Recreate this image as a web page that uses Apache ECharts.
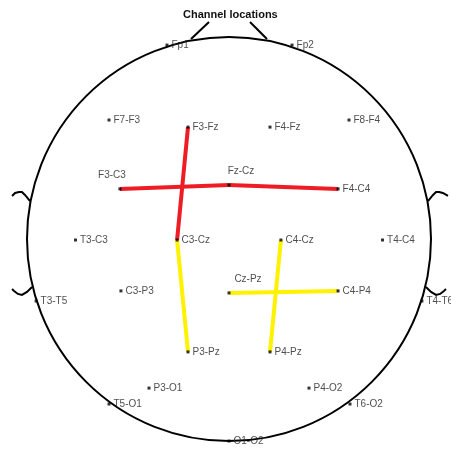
<!DOCTYPE html>
<html>
<head>
<meta charset="utf-8">
<script src="https://cdn.jsdelivr.net/npm/echarts@6/dist/echarts.min.js"></script>
<style>
  html, body { margin: 0; padding: 0; background: #fff; }
  #chart { width: 451px; height: 453px; }
</style>
</head>
<body>
<div id="chart"></div>
<script>
// Channel names and their planar positions (head radius = 1, nose up)
const channelNames = [
  'Fp1', 'Fp2',
  'F7-F3', 'F8-F4', 'F3-Fz', 'F4-Fz',
  'F3-C3', 'Fz-Cz', 'F4-C4',
  'T3-C3', 'C3-Cz', 'C4-Cz', 'T4-C4',
  'C3-P3', 'Cz-Pz', 'C4-P4',
  'T3-T5', 'T4-T6',
  'P3-Pz', 'P4-Pz',
  'P3-O1', 'P4-O2', 'T5-O1', 'T6-O2',
  'O1-O2'
];
const channelX = [
  -0.307, 0.312,
  -0.594, 0.594, -0.203, 0.203,
  -0.540, 0.000, 0.540,
  -0.760, -0.257, 0.257, 0.760,
  -0.535, 0.000, 0.540,
  -0.955, 0.955,
  -0.203, 0.203,
  -0.396, 0.396, -0.594, 0.599,
  0.000
];
const channelY = [
  0.960, 0.960,
  0.589, 0.589, 0.554, 0.554,
  0.248, 0.267, 0.248,
  -0.005, -0.005, -0.005, -0.005,
  -0.257, -0.267, -0.257,
  -0.307, -0.307,
  -0.559, -0.559,
  -0.738, -0.738, -0.817, -0.817,
  -1.000
];

// Connections between channels
const redLinks = [['F3-C3', 'Fz-Cz'], ['Fz-Cz', 'F4-C4'], ['F3-Fz', 'C3-Cz']];
const yellowLinks = [['C3-Cz', 'P3-Pz'], ['C4-Cz', 'P4-Pz'], ['Cz-Pz', 'C4-P4']];

// Head outline: centre and radius, nose and ear strokes
const headCircle = [[0, 0, 1]];
const noseLines = [
  [[-0.188, 0.990], [-0.099, 1.074]],
  [[0.104, 1.074], [0.188, 0.990]]
];
const earLines = [
  [[-0.985, 0.188], [-1.010, 0.218], [-1.025, 0.233], [-1.040, 0.233], [-1.059, 0.228], [-1.074, 0.213]],
  [[-0.975, -0.238], [-1.000, -0.262], [-1.025, -0.277], [-1.045, -0.272], [-1.064, -0.257], [-1.074, -0.248]],
  [[0.985, 0.188], [1.010, 0.218], [1.025, 0.233], [1.040, 0.233], [1.059, 0.228], [1.084, 0.213]],
  [[0.975, -0.238], [1.000, -0.262], [1.025, -0.277], [1.045, -0.272], [1.064, -0.257], [1.074, -0.248]]
];

const titleText = 'Channel locations';

// Label placement overrides (pixel offsets) for labels drawn above their marker
const labelOverrides = {
  'F3-C3': { position: 'top', offset: [-8, -4] },
  'Fz-Cz': { position: 'top', offset: [12, -4] },
  'Cz-Pz': { position: 'top', offset: [19, -4] }
};

const pos = {};
channelNames.forEach((n, i) => { pos[n] = [channelX[i], channelY[i]]; });

const pointData = channelNames.map((n, i) => {
  const item = { name: n, value: [channelX[i], channelY[i]] };
  if (labelOverrides[n]) {
    item.label = Object.assign({ show: true }, labelOverrides[n]);
  }
  return item;
});

const linkData = (links) => links.map(([a, b]) => ({ coords: [pos[a], pos[b]] }));

const FONT = '"Liberation Sans", Arial, Helvetica, sans-serif';

const chart = echarts.init(document.getElementById('chart'), null, { renderer: 'canvas' });

chart.setOption({
  animation: false,
  backgroundColor: '#ffffff',
  title: {
    text: titleText,
    left: 178,
    top: 4,
    textStyle: { fontFamily: FONT, fontSize: 11, fontWeight: 'bold', color: '#111' }
  },
  // 202 px per unit, head centre at (229, 239)
  grid: { left: 6.8, top: 16.8, width: 442.38, height: 434.3 },
  xAxis: { type: 'value', min: -1.1, max: 1.09, show: false },
  yAxis: { type: 'value', min: -1.05, max: 1.1, show: false },
  series: [
    {
      name: 'head',
      type: 'custom',
      coordinateSystem: 'cartesian2d',
      silent: true,
      clip: false,
      z: 1,
      data: headCircle,
      renderItem: function (params, api) {
        const c = api.coord([api.value(0), api.value(1)]);
        const r = api.size([api.value(2), api.value(2)]);
        return {
          type: 'circle',
          shape: { cx: c[0], cy: c[1], r: r[0] },
          style: { fill: 'none', stroke: '#000', lineWidth: 2 }
        };
      }
    },
    {
      name: 'nose',
      type: 'lines',
      coordinateSystem: 'cartesian2d',
      polyline: true,
      silent: true,
      z: 1,
      lineStyle: { color: '#000', width: 2, opacity: 1 },
      data: noseLines.map(c => ({ coords: c }))
    },
    {
      name: 'ears',
      type: 'lines',
      coordinateSystem: 'cartesian2d',
      polyline: true,
      silent: true,
      z: 1,
      lineStyle: { color: '#000', width: 2, opacity: 1 },
      data: earLines.map(c => ({ coords: c }))
    },
    {
      name: 'red',
      type: 'lines',
      coordinateSystem: 'cartesian2d',
      silent: true,
      z: 2,
      lineStyle: { color: '#ee1c25', width: 4, opacity: 1 },
      data: linkData(redLinks)
    },
    {
      name: 'yellow',
      type: 'lines',
      coordinateSystem: 'cartesian2d',
      silent: true,
      z: 2,
      lineStyle: { color: '#fff200', width: 4, opacity: 1 },
      data: linkData(yellowLinks)
    },
    {
      name: 'channels',
      type: 'scatter',
      z: 3,
      symbol: 'rect',
      symbolSize: 3,
      clip: false,
      itemStyle: { color: '#000' },
      label: {
        show: true,
        position: 'right',
        distance: 3,
        formatter: '{b}',
        fontFamily: FONT,
        fontSize: 10,
        color: '#222'
      },
      data: pointData
    }
  ]
});
</script>
</body>
</html>
